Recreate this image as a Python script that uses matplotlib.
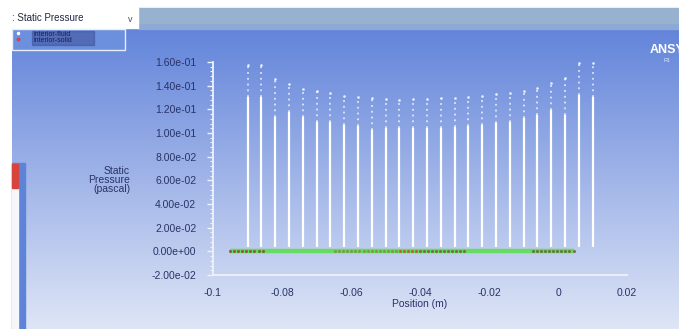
import numpy as np
import matplotlib
matplotlib.use("Agg")
import matplotlib.pyplot as plt
from matplotlib.patches import Rectangle
from matplotlib.ticker import AutoMinorLocator, FixedLocator, FuncFormatter

plt.rcParams['font.family'] = ['Liberation Sans', 'DejaVu Sans']

# ---- data ----
col_x = [-0.090, -0.086, -0.082, -0.078, -0.074, -0.070, -0.066, -0.062, -0.058,
         -0.054, -0.050, -0.046, -0.042, -0.038, -0.034, -0.030, -0.026, -0.022,
         -0.018, -0.014, -0.010, -0.006, -0.002, 0.002, 0.006, 0.010]
col_top = [0.1576, 0.1576, 0.1457, 0.1415, 0.1370, 0.1355, 0.1340, 0.1310, 0.1305,
           0.1296, 0.1288, 0.1280, 0.1288, 0.1288, 0.1296, 0.1296, 0.1305, 0.1310,
           0.1330, 0.1340, 0.1355, 0.1380, 0.1420, 0.1465, 0.1590, 0.1590]
col_dense = [0.1304, 0.1304, 0.1135, 0.1177, 0.1135, 0.1093, 0.1093, 0.1067, 0.1059,
             0.1025, 0.1042, 0.1042, 0.1042, 0.1042, 0.1042, 0.1050, 0.1059, 0.1067,
             0.1084, 0.1093, 0.1127, 0.1152, 0.1194, 0.1152, 0.1320, 0.1304]
col_base = 0.004

wall_start, wall_end, wall_nodes = -0.095, 0.0045, 86
# zones of the wall markers: (from, to, colour)
wall_zones = [(-0.095, -0.085, '#8a4a3a'),
              (-0.085, -0.065, '#6fd86a'),
              (-0.065, -0.047, '#8c8a55'),
              (-0.047, -0.040, '#c0503a'),
              (-0.040, -0.026, '#7a5a45'),
              (-0.026, -0.008, '#6fd86a'),
              (-0.008, 0.0045, '#7a5a45')]

xticks = [-0.1, -0.08, -0.06, -0.04, -0.02, 0, 0.02]
yticks = [-0.02, 0.0, 0.02, 0.04, 0.06, 0.08, 0.10, 0.12, 0.14, 0.16]

W, H = 679, 329
fig = plt.figure(figsize=(W / 100, H / 100), dpi=100)
fig.patch.set_facecolor('white')

# ---- window decoration, drawn in pixel coords ----
bg = fig.add_axes([0, 0, 1, 1])
bg.set_xlim(0, W)
bg.set_ylim(H, 0)
bg.axis('off')

top_c = np.array([98, 132, 218]) / 255
bot_c = np.array([222, 229, 246]) / 255
t = np.linspace(0, 1, 200)[:, None, None]
grad = top_c * (1 - t) + bot_c * t
grad = np.repeat(grad, 2, axis=1)
bg.imshow(grad, extent=[12, W, H, 28], aspect='auto', zorder=0)

bg.add_patch(Rectangle((138, 8), W - 138, 20, color='#97b2cf', zorder=1))
bg.add_patch(Rectangle((138, 24), W - 138, 5, color='#8fa9d6', zorder=1))
bg.add_patch(Rectangle((12, 8), 126, 20, color='white', zorder=1))
bg.text(12, 18, ': Static Pressure', fontsize=7, color='#202840', va='center', zorder=2)
bg.text(128, 19, 'v', fontsize=6.5, color='#404a60', va='center', zorder=2)

# legend box
bg.add_patch(Rectangle((12, 29), 113, 21, facecolor='#6d90de', edgecolor='#e8eef8',
                       lw=1, zorder=1))
bg.plot([18], [33], 'o', ms=1.5, color='white', zorder=3)
bg.plot([18], [38.5], 'o', ms=1.8, color='#e04040', zorder=3)
bg.add_patch(Rectangle((32, 31), 62, 14, color='#3c4f9a', alpha=0.55, zorder=2))
bg.text(33, 35, 'interior-fluid', fontsize=5, color='#1a2050', va='center', zorder=3)
bg.text(33, 41, 'interior-solid', fontsize=5, color='#1a2050', va='center', zorder=3)

# side panel
bg.add_patch(Rectangle((12, 163), 13, H - 163, color='#5d84d6', zorder=1))
bg.add_patch(Rectangle((12, 188), 6, H - 188, color='#f6f7fb', zorder=2))
bg.add_patch(Rectangle((12, 164), 6, 24, color='#d8443c', zorder=2))

bg.text(650, 50, 'ANSYS', fontsize=9, fontweight='bold', color='white', va='center', zorder=2)
bg.text(664, 60, 'R1', fontsize=4, color='#dfe6fa', va='center', zorder=2)

bg.text(130, 180, 'Static\nPressure\n(pascal)', fontsize=7.5, color='#2a3366',
        ha='right', va='center', linespacing=0.9, zorder=2)
bg.text(420, 304, 'Position (m)', fontsize=7.5, color='#2a3366',
        ha='center', va='center', zorder=2)

# ---- plot axes ----
x0, x1, ytop, ybot = 213, 627, 62, 275
ax = fig.add_axes([x0 / W, (H - ybot) / H, (x1 - x0) / W, (ybot - ytop) / H])
ax.set_facecolor('none')
ax.set_xlim(-0.1, 0.02)
ax.set_ylim(-0.02, 0.16)

for s in ['top', 'right']:
    ax.spines[s].set_visible(False)
for s in ['left', 'bottom']:
    ax.spines[s].set_color('#eef2fb')
    ax.spines[s].set_linewidth(1.3)

ax.xaxis.set_major_locator(FixedLocator(xticks))
ax.yaxis.set_major_locator(FixedLocator(yticks))
ax.xaxis.set_major_formatter(FuncFormatter(lambda v, p: '%g' % v))
ax.yaxis.set_major_formatter(FuncFormatter(lambda v, p: '%.2e' % v))
ax.yaxis.set_minor_locator(AutoMinorLocator(5))
ax.tick_params(axis='y', which='major', length=4, width=1, color='#eef2fb',
               labelsize=7.5, labelcolor='#2a3366', pad=8)
ax.tick_params(axis='y', which='minor', length=2, width=0.8, color='#eef2fb')
ax.tick_params(axis='x', which='major', length=0, labelsize=7.5,
               labelcolor='#2a3366', pad=9)

# columns of white points
ax.vlines(col_x, col_base, col_dense, colors='white', lw=1.6, zorder=3)
ax.vlines(col_x, col_dense, col_top, colors='white', lw=1.3,
          linestyles=(0, (1.0, 2.2)), alpha=0.75, zorder=3)
ax.scatter(col_x, col_top, s=3.5, color='white', lw=0, alpha=0.85, zorder=3)

# wall line at zero pressure
ax.plot([wall_start, wall_end], [0, 0], color='#5fe05a', lw=3.2, zorder=4,
        solid_capstyle='butt')
nodes = np.linspace(wall_start, wall_end, wall_nodes)
for a, b, c in wall_zones:
    sel = nodes[(nodes >= a) & (nodes <= b)]
    ax.plot(sel, np.zeros_like(sel), 'o', ms=2.2, color=c, mec='none',
            alpha=0.85, zorder=5)

fig.savefig('out.png', dpi=100)
